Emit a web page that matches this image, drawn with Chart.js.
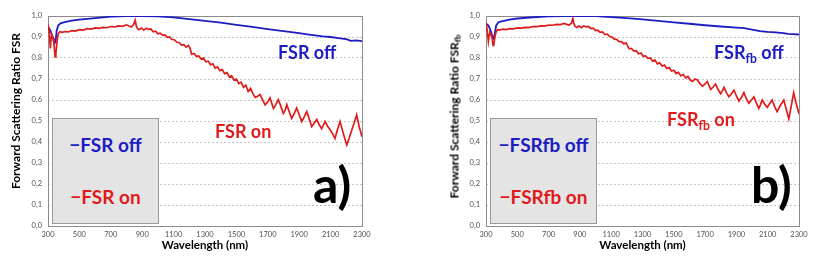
<!DOCTYPE html>
<html>
<head>
<meta charset="utf-8">
<script src="https://cdn.jsdelivr.net/npm/chart.js@4"></script>
<style>
  body { margin: 0; background: #fff; }
  #wrap { position: relative; width: 817px; height: 265px; overflow: hidden; font-family: Lato, 'Open Sans', sans-serif; }
  canvas { position: absolute; top: 0; }
  .lbl { position: absolute; font-weight: bold; line-height: 1; white-space: nowrap; }
  .blue { color: #1c1cc2; }
  .red { color: #e01b1b; }
  .sub { font-size: 0.68em; position: relative; top: 0.3em; }
  .legend { position: absolute; top: 118px; width: 105px; height: 104px; background: #e4e4e4; border: 1px solid #9a9a9a; }
  .legend div { position: absolute; left: 0; width: 100%; text-align: center; font-weight: bold; font-size: 19px; line-height: 1; white-space: nowrap; }
  .ytitle { position: absolute; width: 200px; text-align: center; font-weight: bold; font-size: 12px; line-height: 12px; transform: rotate(-90deg); white-space: nowrap; }
  .panel { position: absolute; font-weight: bold; font-size: 50px; line-height: 1; color: #000; }
</style>
</head>
<body>
<div id="wrap">
  <canvas id="ca" width="408" height="265" style="left:0"></canvas>
  <canvas id="cb" width="409" height="265" style="left:408px"></canvas>

  <div class="ytitle" style="left:-84px; top:105px">Forward Scattering Ratio FSR</div>
  <div class="ytitle" style="left:355px; top:110px">Forward Scattering Ratio FSR<span class="sub">fb</span></div>

  <div class="legend" style="left:52px">
    <div class="blue" style="top:16px">&minus;FSR off</div>
    <div class="red" style="top:68px">&minus;FSR on</div>
  </div>
  <div class="legend" style="left:490px">
    <div class="blue" style="top:16px">&minus;FSRfb off</div>
    <div class="red" style="top:68px">&minus;FSRfb on</div>
  </div>

  <div class="lbl blue" style="left:278px; top:43px; font-size:18px">FSR off</div>
  <div class="lbl red" style="left:215px; top:122px; font-size:18px">FSR on</div>
  <div class="lbl blue" style="left:714px; top:43px; font-size:18px">FSR<span class="sub">fb</span> off</div>
  <div class="lbl red" style="left:667px; top:110px; font-size:18px">FSR<span class="sub">fb</span> on</div>

  <div class="panel" style="left:313px; top:159px">a)</div>
  <div class="panel" style="left:751px; top:159px">b)</div>
</div>

<script>
// wavelengths (nm)
const wlOff = [300, 315, 330, 340, 348, 355, 365, 380, 400, 450, 500, 600, 700, 800, 900, 1000,
  1100, 1200, 1300, 1400, 1500, 1600, 1700, 1800, 1900, 1950, 2000, 2050, 2100, 2150, 2200, 2230, 2260, 2300];

const wlOn = [
  300, 308, 315, 320, 325, 332, 338, 345, 350, 358,
  365, 375, 390, 410, 430, 450, 475, 500, 525, 550,
  575, 600, 625, 650, 675, 700, 725, 750, 775, 800,
  815, 830, 845, 855, 862, 870, 880, 895, 910, 925,
  940, 955, 970, 985, 1000, 1015, 1030, 1045, 1060, 1075,
  1090, 1105, 1120, 1135, 1150, 1165, 1180, 1195, 1205, 1215,
  1230, 1245, 1260, 1275, 1290, 1305, 1320, 1335, 1350, 1365,
  1380, 1395, 1410, 1425, 1440, 1455, 1470, 1485, 1500, 1515,
  1530, 1545, 1560, 1575, 1590, 1605, 1620, 1635, 1651, 1667,
  1683, 1698, 1714, 1725, 1736, 1751, 1767, 1783, 1799, 1810,
  1821, 1836, 1852, 1868, 1884, 1900, 1916, 1932, 1948, 1964,
  1980, 1996, 2012, 2028, 2043, 2054, 2065, 2081, 2097, 2112,
  2128, 2144, 2160, 2181, 2203, 2219, 2235, 2250, 2266, 2283, 2300];

// panel a
const fsrOff = [0.95, 0.93, 0.90, 0.87, 0.875, 0.93, 0.955, 0.965, 0.97, 0.978, 0.983, 0.99, 0.997, 1.0, 1.0, 0.998,
  0.993, 0.985, 0.977, 0.968, 0.958, 0.948, 0.938, 0.928, 0.918, 0.913, 0.908, 0.903, 0.9, 0.895, 0.89, 0.882, 0.884, 0.88];

const fsrOn = [
  0.96, 0.92, 0.845, 0.90, 0.91, 0.895, 0.87, 0.805, 0.82, 0.88,
  0.915, 0.925, 0.922, 0.926, 0.924, 0.93, 0.928, 0.935, 0.933, 0.94,
  0.938, 0.943, 0.941, 0.946, 0.944, 0.95, 0.948, 0.953, 0.951, 0.958,
  0.952, 0.948, 0.958, 0.98, 0.955, 0.94, 0.935, 0.943, 0.933, 0.942,
  0.936, 0.938, 0.925, 0.928, 0.915, 0.918, 0.908, 0.91, 0.898, 0.9,
  0.888, 0.887, 0.875, 0.874, 0.862, 0.864, 0.852, 0.86, 0.845, 0.818,
  0.822, 0.808, 0.81, 0.795, 0.8, 0.782, 0.785, 0.768, 0.772, 0.752,
  0.758, 0.74, 0.745, 0.725, 0.73, 0.71, 0.715, 0.695, 0.7, 0.678,
  0.685, 0.66, 0.67, 0.64, 0.655, 0.63, 0.612, 0.618, 0.626, 0.6,
  0.576, 0.59, 0.61, 0.585, 0.56, 0.578, 0.602, 0.57, 0.536, 0.55,
  0.578, 0.545, 0.512, 0.535, 0.562, 0.53, 0.497, 0.52, 0.545, 0.51,
  0.473, 0.49, 0.507, 0.482, 0.463, 0.48, 0.498, 0.475, 0.458, 0.44,
  0.417, 0.46, 0.498, 0.44, 0.386, 0.42, 0.457, 0.49, 0.529, 0.47, 0.425];

// panel b
const fsrFbOff = [0.963, 0.955, 0.93, 0.905, 0.895, 0.91, 0.955, 0.97, 0.975, 0.983, 0.988, 0.994, 0.998, 1.0, 1.0, 0.999,
  0.995, 0.99, 0.984, 0.977, 0.97, 0.963, 0.956, 0.95, 0.945, 0.942, 0.935, 0.928, 0.924, 0.922, 0.918, 0.915, 0.914, 0.912];

const fsrFbOn = [
  0.97, 0.93, 0.88, 0.91, 0.92, 0.91, 0.90, 0.86, 0.865, 0.905,
  0.925, 0.935, 0.934, 0.937, 0.935, 0.94, 0.939, 0.943, 0.942, 0.946,
  0.945, 0.95, 0.949, 0.953, 0.952, 0.957, 0.956, 0.96, 0.959, 0.965,
  0.96, 0.957, 0.965, 0.988, 0.962, 0.95, 0.945, 0.952, 0.944, 0.953,
  0.948, 0.95, 0.94, 0.942, 0.93, 0.932, 0.922, 0.924, 0.912, 0.914,
  0.902, 0.9, 0.89, 0.889, 0.878, 0.878, 0.868, 0.872, 0.858, 0.845,
  0.845, 0.833, 0.835, 0.82, 0.824, 0.808, 0.81, 0.798, 0.8, 0.785,
  0.79, 0.772, 0.777, 0.762, 0.766, 0.75, 0.755, 0.738, 0.742, 0.726,
  0.732, 0.715, 0.722, 0.705, 0.712, 0.695, 0.688, 0.7, 0.695, 0.678,
  0.665, 0.675, 0.688, 0.668, 0.65, 0.662, 0.676, 0.65, 0.63, 0.642,
  0.66, 0.635, 0.615, 0.63, 0.647, 0.62, 0.595, 0.612, 0.635, 0.605,
  0.585, 0.6, 0.615, 0.585, 0.56, 0.578, 0.6, 0.58, 0.565, 0.582,
  0.6, 0.57, 0.545, 0.575, 0.6, 0.555, 0.51, 0.57, 0.635, 0.58, 0.535];

const xTicks = [300, 500, 700, 900, 1100, 1300, 1500, 1700, 1900, 2100, 2300];

const BLUE = '#1c1cc2';
const RED = '#e01b1b';
const tickFont = { family: "'Liberation Sans Narrow', Lato, sans-serif", size: 7.5 };

const plotBox = {
  id: 'plotBox',
  beforeDatasetsDraw(chart) {
    const { ctx, chartArea: a } = chart;
    ctx.save();
    ctx.strokeStyle = '#8c8c8c';
    ctx.lineWidth = 1;
    ctx.strokeRect(Math.round(a.left) + 0.5, Math.round(a.top) + 0.5, Math.round(a.width), Math.round(a.height));
    ctx.restore();
  }
};

function pts(xs, ys) {
  return xs.map((x, i) => ({ x: x, y: ys[i] }));
}

function makeChart(id, off, on, pad) {
  const ctx = document.getElementById(id).getContext('2d');
  return new Chart(ctx, {
    type: 'line',
    data: {
      datasets: [
        { data: pts(wlOn, on), borderColor: RED, borderWidth: 1.7, pointRadius: 0, tension: 0 },
        { data: pts(wlOff, off), borderColor: BLUE, borderWidth: 1.8, pointRadius: 0, tension: 0 },
      ],
    },
    options: {
      responsive: false,
      animation: false,
      devicePixelRatio: 1,
      layout: { padding: pad },
      plugins: { legend: { display: false }, tooltip: { enabled: false } },
      scales: {
        x: {
          type: 'linear',
          min: 300,
          max: 2300,
          afterBuildTicks: (s) => { s.ticks = xTicks.map((v) => ({ value: v })); },
          afterFit: (s) => { s.height = 39; },
          ticks: { font: tickFont, color: '#505050', maxRotation: 0, padding: 4, callback: (v) => String(v) },
          grid: { display: false, drawTicks: false },
          border: { display: false },
          title: {
            display: true,
            text: 'Wavelength (nm)',
            color: '#000',
            font: { family: 'Lato', size: 11.5, weight: 'bold' },
            padding: { top: 0, bottom: 13 },
          },
        },
        y: {
          min: 0,
          max: 1,
          afterFit: (s) => { s.width = 48; },
          ticks: {
            stepSize: 0.1,
            font: tickFont,
            color: '#505050',
            padding: 6,
            callback: (v) => v.toFixed(1).replace('.', ','),
          },
          grid: { color: '#c4c4c4', drawTicks: false },
          border: { display: false, dash: [2, 2] },
        },
      },
    },
    plugins: [plotBox],
  });
}

makeChart('ca', fsrOff, fsrOn, { left: 0, right: 46, top: 16, bottom: 0 });
makeChart('cb', fsrFbOff, fsrFbOn, { left: 30, right: 18, top: 16, bottom: 0 });
</script>
</body>
</html>
